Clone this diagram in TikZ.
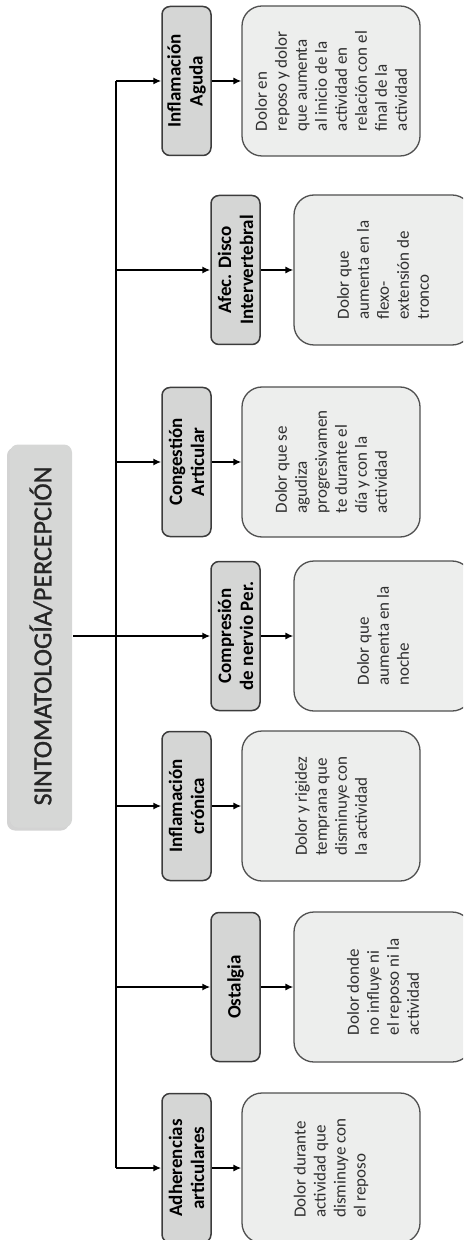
\documentclass[tikz,border=0pt]{standalone}
\usepackage{fontspec}
\setmainfont{Carlito}
\newfontfamily\titlefont{Carlito}[FakeBold=1.2]
\usetikzlibrary{arrows.meta,shadows}
\definecolor{rootgray}{HTML}{D6D7D6}
\definecolor{boxgray}{HTML}{D5D6D5}
\definecolor{notegray}{HTML}{EDEEED}
\definecolor{edgegray}{HTML}{3C3C3C}

\begin{document}
\begin{tikzpicture}[x=0.5pt,y=-0.5pt,>={Latex[length=4pt,width=3.6pt]},line width=1pt]
		\tikzstyle{title}=[rotate=90,rounded corners=4pt,fill=rootgray,minimum width=191.5pt,minimum height=31pt,inner sep=2pt,text=black!85,font=\titlefont\fontsize{13pt}{15pt}\selectfont,drop shadow={opacity=0.35,shadow xshift=-1.5pt,shadow yshift=-1.5pt}]
		\tikzstyle{cause}=[rotate=90,rounded corners=4pt,draw=edgegray,line width=0.75pt,fill=boxgray,minimum width=74.5pt,minimum height=24.5pt,inner sep=1pt,align=center,font=\fontsize{9.5pt}{11pt}\selectfont\bfseries]
		\tikzstyle{note}=[rotate=90,rounded corners=10pt,draw=edgegray!90,line width=0.65pt,fill=notegray,minimum width=75pt,minimum height=89pt,inner sep=2pt,align=left,text=black!82,font=\fontsize{8.5pt}{10pt}\selectfont]
		\useasboundingbox (0,0) rectangle (463,1240);
		\clip (0,0) rectangle (463,1240);
		
		\node[title] (root) at (41,636) {SINTOMATOLOGÍA/PERCEPCIÓN};
		
		% first column
		\node[cause] (aguda) at (186.5,81) {Inflamación\\Aguda};
		\node[cause] (congest) at (186.5,462) {Congestión\\Articular};
		\node[cause] (cronica) at (186.5,806) {Inflamación\\crónica};
		\node[cause] (adher) at (186.5,1168) {Adherencias\\articulares};
		% second column
		\node[cause] (disco) at (235.5,270) {Afec. Disco\\Intervertebral};
		\node[cause] (compres) at (235.5,636) {Compresión\\de nervio Per.};
		\node[cause] (ostal) at (235.5,987) {Ostalgia};
		
		\node[note] (daguda) at (331,81) {Dolor en\\reposo y dolor\\que aumenta\\al inicio de la\\actividad en\\relación con el\\final de la\\actividad};
		\node[note] (dcongest) at (331,462) {Dolor que se\\agudiza\\progresivamen\\te durante el\\día y con la\\actividad};
		\node[note] (dcronica) at (331,806) {Dolor y rigidez\\temprana que\\disminuye con\\la actividad};
		\node[note] (dadher) at (331,1168) {Dolor durante\\actividad que\\disminuye con\\el reposo};
		\node[note] (ddisco) at (383,270) {Dolor que\\aumenta en la\\flexo-\\extensión de\\tronco};
		\node[note] (dcompres) at (383,636) {Dolor que\\aumenta en la\\noche};
		\node[note] (dostal) at (383,987) {Dolor donde\\no influye ni\\el reposo ni la\\actividad};
		
		\coordinate (top) at (116,81);
		\coordinate (bot) at (116,1168);
		\draw (top) -- (bot);
		\draw[->] (root.south) -- (compres.north);
		\foreach \n in {aguda,congest,cronica,adher,disco,ostal}{
			\draw[->] (top |- \n.north) -- (\n.north);
		};
		\foreach \n in {aguda,congest,cronica,adher,disco,compres,ostal}{
			\draw[->] (\n.south) -- (d\n.north);
		};
	\end{tikzpicture}
\end{document}
